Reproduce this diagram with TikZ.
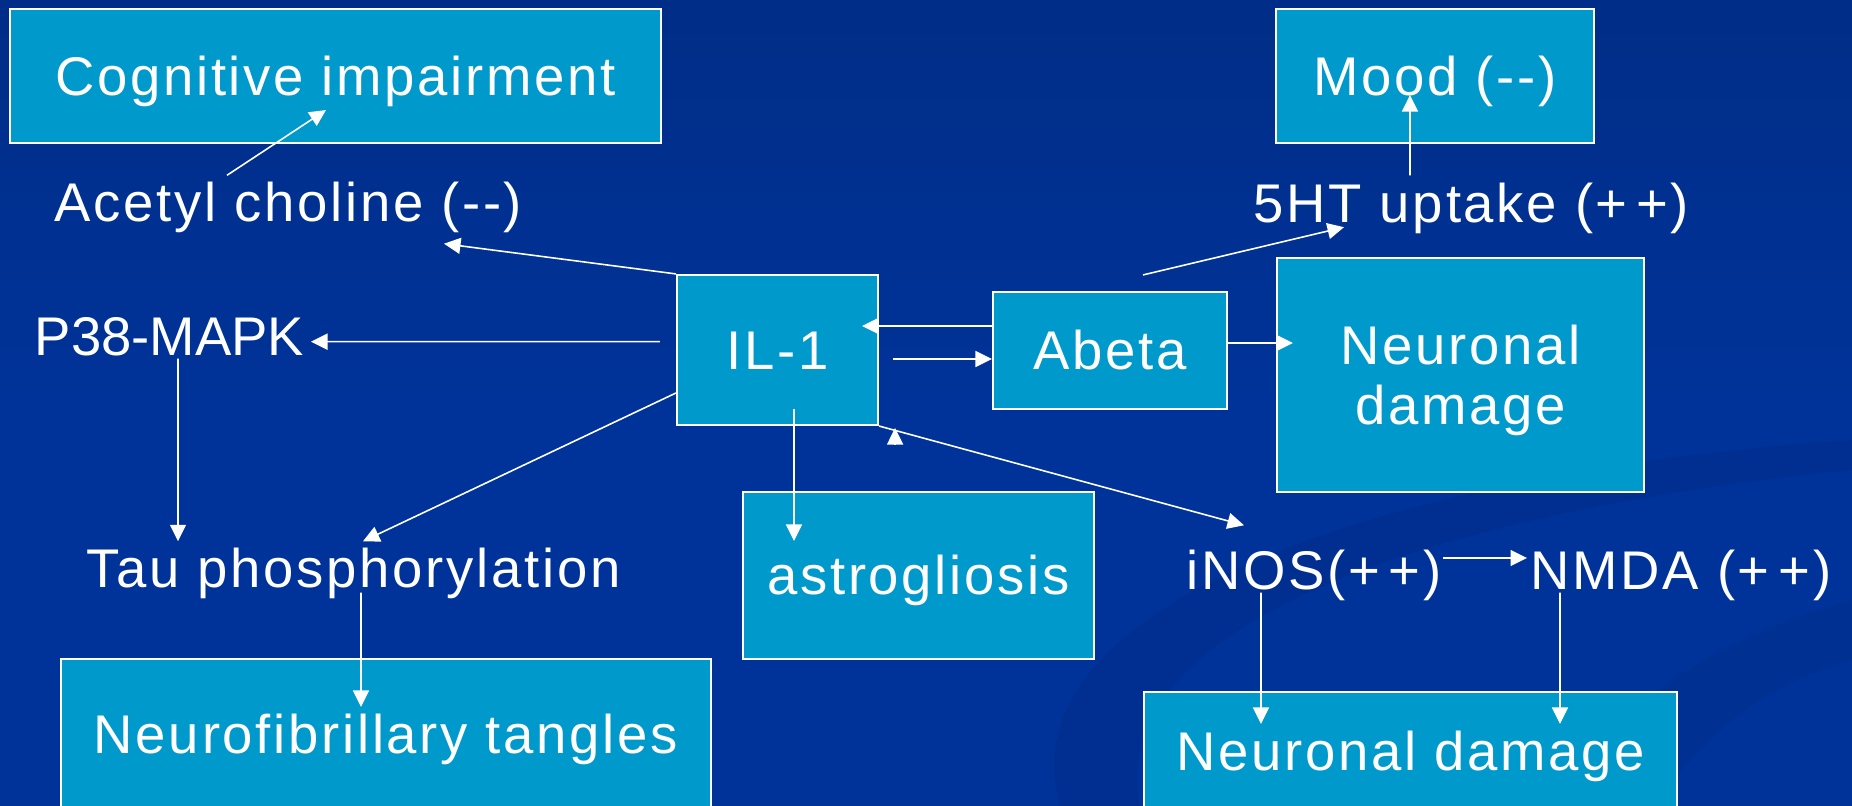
\documentclass[tikz,border=0pt]{standalone}
\usepackage{fontspec}
\setmainfont{Liberation Sans}[LetterSpace=5]
\usepackage{tikz}
\usetikzlibrary{shapes, arrows, arrows.meta, positioning}
\definecolor{fondo}{RGB}{0,51,153}
\definecolor{fondoalto}{RGB}{0,45,135}
\definecolor{remolino}{RGB}{0,42,132}
\definecolor{celeste}{RGB}{0,153,204}
\newcommand{\letra}{\fontsize{15.5}{17.3}\selectfont}
\newcommand{\masmas}{(+\hspace{2.5pt}+)}
\tikzstyle{recuadro} = [draw=white, fill=celeste, line width=0.6pt, rectangle, inner sep=0pt, text=white, text height=11.1pt, text depth=0pt, font=\letra]
\tikzstyle{texto} = [text=white, inner sep=0pt, text height=11.1pt, text depth=0pt, font=\letra]
\tikzstyle{flecha} = [draw=white, line width=0.45pt, -{Triangle[length=1.65mm, width=1.6mm]}]

\begin{document}
\begin{tikzpicture}[x=0.1mm, y=-0.1mm]
	% fondo de la diapositiva
	\useasboundingbox (0,0) rectangle (1852,806);
	\clip (0,0) rectangle (1852,806);
	\shade[top color=fondoalto, bottom color=fondo, middle color=fondo] (0,0) rectangle (1852,806);
	\fill[remolino, opacity=0.35] (1060,806) .. controls (1000,600) and (1400,470) .. (1852,440) -- (1852,470) .. controls (1450,510) and (1100,620) .. (1140,806) -- cycle;
	\fill[remolino, opacity=0.3] (1852,600) .. controls (1700,640) and (1600,720) .. (1560,806) -- (1660,806) .. controls (1700,730) and (1780,680) .. (1852,660) -- cycle;

	% recuadros
	\node[recuadro, minimum width=65.1mm, minimum height=13.4mm] (cog) at (335.5,76) {Cognitive impairment};
	\node[recuadro, minimum width=31.8mm, minimum height=13.4mm] (mood) at (1435,76) {Mood (-{}-)};
	\node[recuadro, minimum width=20.1mm, minimum height=15mm] (il) at (777.5,350) {IL-1};
	\node[recuadro, minimum width=23.4mm, minimum height=11.7mm] (abeta) at (1110,350.5) {Abeta};
	\node[recuadro, minimum width=36.7mm, minimum height=23.4mm, align=center, text height=28.4pt] (ndr) at (1460.5,375) {Neuronal \\ damage};
	\node[recuadro, minimum width=35.1mm, minimum height=16.7mm] (astro) at (918.5,575.5) {astrogliosis};
	\node[recuadro, minimum width=65mm, minimum height=15mm] (nft) at (386,734) {Neurofibrillary tangles};
	\node[recuadro, minimum width=53.3mm, minimum height=11.8mm] (ndb) at (1410.5,751) {Neuronal damage};

	% textos sueltos
	\node[texto] (ach) at (288.5,202.5) {Acetyl choline (-{}-)};
	\node[texto] (ht) at (1471.5,203) {5HT uptake \masmas};
	\node[texto] (p38) at (169.5,336.5) {\addfontfeature{LetterSpace=0}P38-MAPK};
	\node[texto] (tau) at (353.5,568.5) {Tau phosphorylation};
	\node[texto] (inos) at (1314,570) {iNOS\masmas};
	\node[texto] (nmda) at (1681,570) {NMDA \masmas};

	% flechas
	\draw[flecha] ([xshift=-6.15mm, yshift=0.7mm]ach.north) -- ([xshift=-0.95mm, yshift=3.4mm]cog.south);
	\draw[flecha] (il.north west) -- ([xshift=15.55mm, yshift=-2.1mm]ach.south);
	\draw[flecha] ([xshift=-1.6mm, yshift=0.83mm]il.west) -- ([xshift=14.15mm, yshift=-0.52mm]p38.center);
	\draw[flecha] ([yshift=-4.3mm]il.west) -- ([xshift=0.95mm, yshift=0.7mm]tau.north);
	\draw[flecha] ([xshift=0.85mm, yshift=-0.2mm]p38.south) -- ([xshift=-17.55mm, yshift=0.7mm]tau.north);
	\draw[flecha] ([xshift=0.75mm, yshift=-0.4mm]tau.south) -- ([xshift=-2.5mm, yshift=-4.9mm]nft.north);
	\draw[flecha] ([xshift=1.65mm, yshift=1.7mm]il.south) -- ([xshift=-12.45mm, yshift=-5mm]astro.north);
	\draw[flecha] ([yshift=2.45mm]abeta.west) -- ([xshift=-1.7mm, yshift=2.4mm]il.east);
	\draw[flecha] ([xshift=1.4mm, yshift=-0.9mm]il.east) -- ([yshift=-0.85mm]abeta.west);
	\draw[flecha] ([yshift=0.75mm]abeta.east) -- ([xshift=1.7mm, yshift=3.2mm]ndr.west);
	\draw[flecha] ([xshift=3.3mm, yshift=1.6mm]abeta.north) -- ([xshift=-12.75mm, yshift=-0.4mm]ht.south);
	\draw[flecha] ([xshift=-6.15mm, yshift=0.75mm]ht.north) -- ([xshift=-2.5mm, yshift=4.9mm]mood.south);
	\draw[flecha] (il.south east) -- ([xshift=-7mm, yshift=2.45mm]inos.north);
	\draw[flecha] ([xshift=1.6mm, yshift=-1.8mm]il.south east) -- ([xshift=1.6mm, yshift=-0.2mm]il.south east);
	\draw[flecha] ([xshift=12.9mm, yshift=1.2mm]inos.center) -- ([xshift=-15.4mm, yshift=1.2mm]nmda.center);
	\draw[flecha] ([xshift=-5.3mm, yshift=-0.25mm]inos.south) -- ([xshift=-14.95mm, yshift=-3.3mm]ndb.north);
	\draw[flecha] ([xshift=-12.1mm, yshift=-0.25mm]nmda.south) -- ([xshift=14.95mm, yshift=-3.3mm]ndb.north);
\end{tikzpicture}
\end{document}
